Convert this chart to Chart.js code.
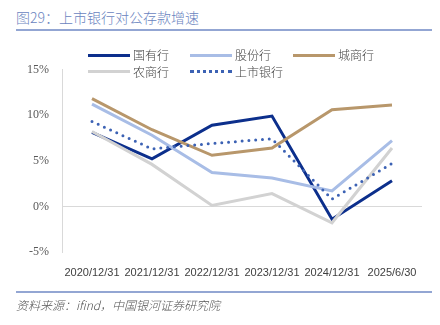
<!DOCTYPE html>
<html>
<head>
<meta charset="utf-8">
<script src="https://cdn.jsdelivr.net/npm/chart.js@4"></script>
<style>
  body { margin: 0; background: #fff; }
  #wrap { position: relative; width: 440px; height: 325px; overflow: hidden; font-family: "Noto Sans CJK SC", sans-serif; }
  #titulo { position: absolute; left: 16px; top: 8px; font-size: 14px; font-weight: 300; color: #6a84c0; line-height: 18px; }
  #linhaTopo { position: absolute; left: 16px; top: 29px; width: 416px; height: 2px; background: #93a6d3; }
  #linhaBase { position: absolute; left: 16px; top: 291px; width: 416px; height: 2px; background: #93a6d3; }
  #fonte { position: absolute; left: 16px; top: 296px; font-size: 12px; font-weight: 300; font-style: italic; color: #555; line-height: 17px; }
  #chart { position: absolute; left: 0; top: 0; }
  .leg { position: absolute; font-size: 12px; font-weight: 300; color: #404040; line-height: 14px; }
  .amostra { position: absolute; width: 42px; height: 0; }
</style>
</head>
<body>
<div id="wrap">
  <div id="titulo">图29：上市银行对公存款增速</div>
  <div id="linhaTopo"></div>
  <canvas id="chart" width="440" height="325"></canvas>
  <div id="legenda"></div>
  <div id="linhaBase"></div>
  <div id="fonte">资料来源：ifind，中国银河证券研究院</div>
</div>
<script>
// ==============================
// DADOS
// ==============================
const categorias = ["2020/12/31", "2021/12/31", "2022/12/31", "2023/12/31", "2024/12/31", "2025/6/30"];
const nomes = ["国有行", "股份行", "城商行", "农商行", "上市银行"];

const guoyou = [8.1, 5.2, 8.9, 9.9, -1.4, 2.8];
const gufen = [11.2, 7.8, 3.7, 3.1, 1.7, 7.2];
const chengshang = [11.8, 8.4, 5.6, 6.4, 10.6, 11.1];
const nongshang = [8.2, 4.6, 0.1, 1.4, -1.8, 6.4];
const shangshi = [9.3, 6.3, 6.9, 7.4, 0.8, 4.7];

const cores = ["#0c2f8c", "#a8bde6", "#b8976b", "#d2d2d2", "#3c62b4"];

// ==============================
// LEGENDA (HTML)
// ==============================
const posLegenda = [[88, 55], [190, 55], [293, 55], [88, 71.5], [190, 71.5]];
const legenda = document.getElementById("legenda");
nomes.forEach((n, i) => {
  const [x, y] = posLegenda[i];
  const a = document.createElement("div");
  a.className = "amostra";
  a.style.left = x + "px";
  a.style.top = (y - 1.5) + "px";
  a.style.borderTop = "3px " + (i === 4 ? "dotted " : "solid ") + cores[i];
  legenda.appendChild(a);
  const t = document.createElement("div");
  t.className = "leg";
  t.style.left = (x + 45) + "px";
  t.style.top = (y - 7) + "px";
  t.innerText = n;
  legenda.appendChild(t);
});

// ==============================
// GRÁFICO
// ==============================
function serie(i, dados, ordem) {
  const ds = {
    label: nomes[i],
    data: dados,
    borderColor: cores[i],
    backgroundColor: cores[i],
    borderWidth: 3,
    pointRadius: 0,
    tension: 0,
    order: ordem
  };
  if (i === 4) {
    ds.borderDash = [0, 6.8];
    ds.borderCapStyle = "round";
  }
  return ds;
}

new Chart(document.getElementById("chart"), {
  type: "line",
  data: {
    labels: categorias,
    datasets: [
      serie(0, guoyou, 4),
      serie(1, gufen, 3),
      serie(2, chengshang, 2),
      serie(3, nongshang, 1),
      serie(4, shangshi, 0)
    ]
  },
  options: {
    responsive: false,
    animation: false,
    layout: { padding: { top: 69.5, right: 18, left: 0, bottom: 0 } },
    plugins: { legend: { display: false }, tooltip: { enabled: false } },
    scales: {
      x: {
        offset: true,
        grid: { display: false },
        border: { display: false },
        ticks: {
          color: "#404040",
          font: { family: "Liberation Sans", size: 11 },
          padding: 6,
          maxRotation: 0,
          autoSkip: false
        },
        afterFit: (s) => { s.height = 73; }
      },
      y: {
        min: -5,
        max: 15,
        grid: {
          drawTicks: false,
          color: (c) => (c.tick && c.tick.value === 0 ? "#d9d9d9" : "rgba(0,0,0,0)"),
          lineWidth: 1
        },
        border: { display: true, color: "#d9d9d9", width: 1 },
        ticks: {
          stepSize: 5,
          color: "#595959",
          font: { family: "Liberation Serif", size: 12 },
          padding: 13,
          callback: (v) => v + "%"
        },
        afterFit: (s) => { s.width = 62; }
      }
    }
  }
});
</script>
</body>
</html>
